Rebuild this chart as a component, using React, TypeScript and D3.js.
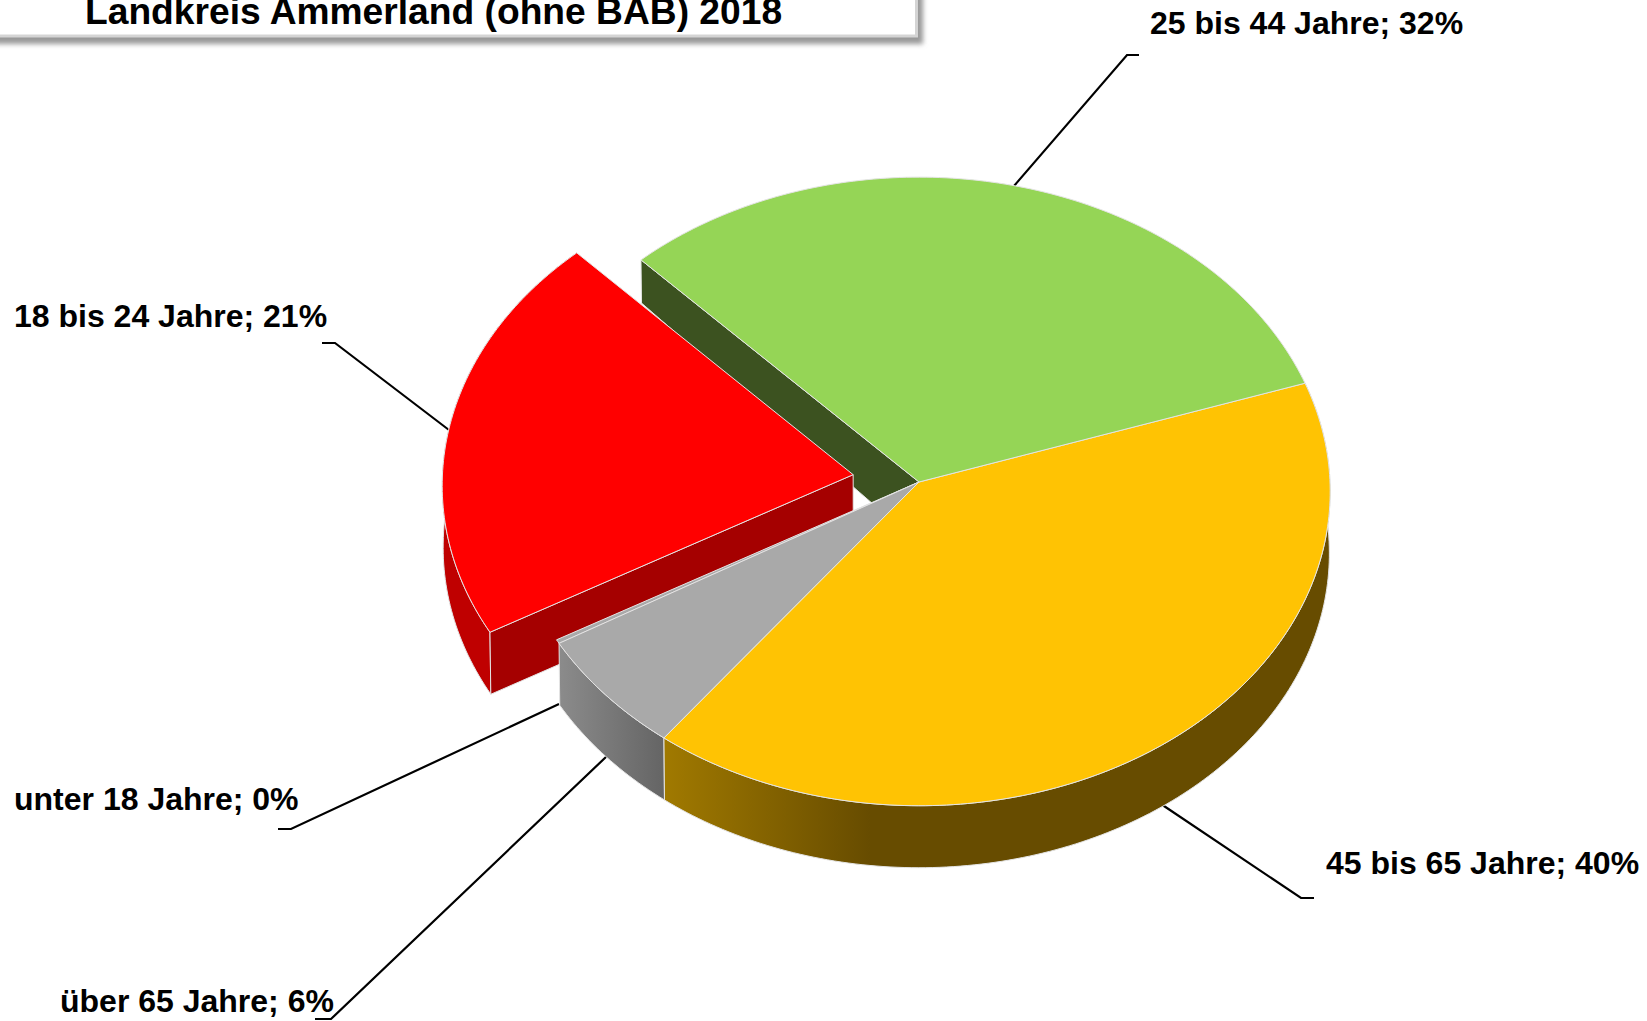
import React from "react";
import * as d3 from "d3";

const categories = ["unter 18 Jahre", "18 bis 24 Jahre", "25 bis 44 Jahre", "45 bis 65 Jahre", "über 65 Jahre"];
const values = [0.2, 21.1, 32.0, 40.5, 6.2];
const shownPercent = [0, 21, 32, 40, 6];
const title = "Landkreis Ammerland (ohne BAB) 2018";

const W = 1647, H = 1021;
const CX = 919, CY = 482, RX = 411, RY = 314, PERSP = 0.03;
const START_DEG = 239.6;
const EXPLODE = [0, 0.162, 0, 0, 0];

const topFill = ["#a9a9a9", "#ff0000", "#95d556", "#ffc303", "#a9a9a9"];
const rimFill = ["#777777", "#bf0000", "#3c5220", "url(#yellowWall)", "url(#grayWall)"];
const faceFill = ["#777777", "#a50000", "#3c5220", "#6a4f00", "#777777"];

// label layout: text anchor (x, baseline) and leader polyline
const labelLayout = [
  { x: 14, y: 810, line: [[559, 704], [291, 829], [278, 829]] },
  { x: 14, y: 327, line: [[449, 430], [335, 343], [322, 343]] },
  { x: 1150, y: 34, line: [[1014, 186], [1127, 55], [1139, 55]] },
  { x: 1326, y: 874, line: [[1161, 804], [1301, 898], [1314, 898]] },
  { x: 60, y: 1012, line: [[607, 756], [331, 1019], [315, 1019]] },
];

const pieGen = d3.pie<number>().sort(null)
  .startAngle((START_DEG * Math.PI) / 180)
  .endAngle(((START_DEG + 360) * Math.PI) / 180);
const arcs = pieGen(values);

type P = [number, number];
const depth = (z: number) => 62 - 26 * Math.max(z, 0);

function project(theta: number, r: number, explode: number, mid: number, bottom: boolean): P {
  const px = r * Math.sin(theta) + explode * Math.sin(mid);
  const pz = r * Math.cos(theta) + explode * Math.cos(mid);
  const w = 1 + PERSP * pz;
  const sx = (RX * px) / w;
  const sy = (-RY * pz) / w;
  if (!bottom) return [CX + sx, CY + sy];
  return [CX + sx * 0.998, CY + sy + depth(pz)];
}

const line = d3.line<P>().x((d) => d[0]).y((d) => d[1]);
const hair = { stroke: "#e4e4e4", strokeWidth: 1, strokeLinejoin: "round" as const };

function arcPts(i: number, bottom: boolean): P[] {
  const a = arcs[i];
  const mid = (a.startAngle + a.endAngle) / 2;
  const n = Math.max(2, Math.ceil((a.endAngle - a.startAngle) * 60));
  return d3.range(n + 1).map((k) =>
    project(a.startAngle + ((a.endAngle - a.startAngle) * k) / n, 1, EXPLODE[i], mid, bottom));
}
function apex(i: number, bottom: boolean): P {
  const a = arcs[i];
  return project(0, 0, EXPLODE[i], (a.startAngle + a.endAngle) / 2, bottom);
}
const topPath = (i: number) => line([apex(i, false), ...arcPts(i, false)]) + "Z";
const rimPath = (i: number) => line([...arcPts(i, false), ...arcPts(i, true).reverse()]) + "Z";
function facePath(i: number, atStart: boolean) {
  const pts = arcPts(i, false), ptsB = arcPts(i, true);
  const k = atStart ? 0 : pts.length - 1;
  return line([apex(i, false), pts[k], ptsB[k], apex(i, true)]) + "Z";
}

const font = { fontFamily: "'Liberation Sans', Arial, sans-serif", fontWeight: 700 };

export default function App() {
  return (
    <svg width={W} height={H} viewBox={`0 0 ${W} ${H}`} style={{ position: "absolute", left: 0, top: 0, display: "block", background: "#fff" }}>
      <defs>
        <linearGradient id="yellowWall" gradientUnits="userSpaceOnUse" x1="666" x2="870" y1="0" y2="0">
          <stop offset="0" stopColor="#a07900" />
          <stop offset="1" stopColor="#674c00" />
        </linearGradient>
        <linearGradient id="grayWall" gradientUnits="userSpaceOnUse" x1="557" x2="668" y1="0" y2="0">
          <stop offset="0" stopColor="#8c8c8c" />
          <stop offset="1" stopColor="#636363" />
        </linearGradient>
        <filter id="boxShadow" x="-5%" y="-50%" width="110%" height="220%">
          <feGaussianBlur stdDeviation="2.5" />
        </filter>
      </defs>

      {/* title box */}
      <rect x={-20} y={-20} width={943} height={64} fill="#999999" filter="url(#boxShadow)" />
      <rect x={-20} y={-20} width={936.5} height={56} fill="#fff" stroke="#d4d4d4" strokeWidth={3} />
      <text x={85} y={24} fontSize={37.2} fill="#000" style={font}>{title}</text>

      {/* leader lines */}
      {labelLayout.map((l, i) => (
        <polyline key={i} points={l.line.map((p) => p.join(",")).join(" ")} fill="none" stroke="#000" strokeWidth={2.2} />
      ))}

      {/* back faces */}
      <path d={facePath(2, true)} fill={faceFill[2]} {...hair} />

      {/* exploded red slice */}
      <path d={rimPath(1)} fill={rimFill[1]} {...hair} />
      <path d={facePath(1, true)} fill={faceFill[1]} {...hair} />
      <path d={topPath(1)} fill={topFill[1]} {...hair} />

      {/* front walls */}
      <path d={rimPath(4)} fill={rimFill[4]} {...hair} />
      <path d={rimPath(3)} fill={rimFill[3]} {...hair} />

      {/* tops */}
      {[0, 4, 3, 2].map((i) => (
        <path key={i} d={topPath(i)} fill={topFill[i]} {...hair} />
      ))}

      {/* labels */}
      {categories.map((c, i) => (
        <text key={c} x={labelLayout[i].x} y={labelLayout[i].y} fontSize={32} fill="#000" style={font}>
          {`${c}; ${shownPercent[i]}%`}
        </text>
      ))}
    </svg>
  );
}
